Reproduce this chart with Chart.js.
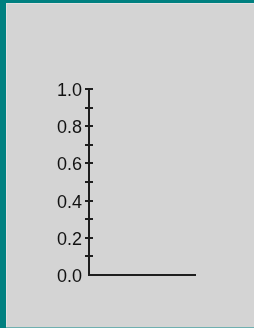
<!DOCTYPE html>
<html>
<head>
<meta charset="utf-8">
<script src="https://cdn.jsdelivr.net/npm/chart.js@4"></script>
<style>
  html, body { margin: 0; padding: 0; }
  body { width: 254px; height: 328px; background: #008080; position: relative; overflow: hidden; }
  .panel {
    position: absolute; left: 6px; top: 3px; width: 248px; height: 324px;
    background: #d4d4d4; border-left: 1px solid #e2e2e2; border-top: 1px solid #e2e2e2;
    box-sizing: border-box;
  }
  .edge { position: absolute; left: 6px; top: 327px; width: 248px; height: 1px; background: #6fb0b0; }
  canvas { position: absolute; left: 0; top: 0; }
</style>
</head>
<body>
<div class="panel"></div>
<div class="edge"></div>
<canvas id="chart" width="254" height="328"></canvas>
<script>
// empty plot: only the frame and the y scale are shown
const categories = [];
const seriesValues = [];
const yMin = 0;
const yMax = 1;
const yStep = 0.1;
const yTickLabels = ["0.0", "0.2", "0.4", "0.6", "0.8", "1.0"];

const axisColor = "#1e1e1e";

// short tick marks crossing the y axis
const crossTicks = {
  id: "crossTicks",
  afterDraw(chart) {
    const y = chart.scales.y;
    const ctx = chart.ctx;
    const x0 = chart.chartArea.left;
    ctx.save();
    ctx.strokeStyle = axisColor;
    ctx.lineWidth = 2;
    y.ticks.forEach((t) => {
      if (t.value <= yMin + 1e-9) return;
      const py = Math.round(y.getPixelForValue(t.value));
      ctx.beginPath();
      ctx.moveTo(x0 - 4, py);
      ctx.lineTo(x0 + 4, py);
      ctx.stroke();
    });
    ctx.restore();
  },
};

new Chart(document.getElementById("chart"), {
  type: "line",
  data: {
    labels: categories,
    datasets: [{ data: seriesValues, borderColor: axisColor }],
  },
  options: {
    responsive: false,
    animation: false,
    layout: { padding: { left: 0, top: 89, right: 59, bottom: 53 } },
    plugins: { legend: { display: false }, tooltip: { enabled: false } },
    scales: {
      x: {
        grid: { display: false, drawTicks: false },
        ticks: { display: false },
        border: { display: true, color: axisColor, width: 2 },
        afterFit(s) { s.height = 0; },
      },
      y: {
        min: yMin,
        max: yMax,
        grid: { display: false, drawTicks: false },
        border: { display: true, color: axisColor, width: 2 },
        ticks: {
          stepSize: yStep,
          autoSkip: false,
          padding: 7,
          labelOffset: 2,
          color: "#111",
          font: { family: "'Liberation Sans', Arial, sans-serif", size: 18 },
          callback: (v) => {
            const lbl = Number(v).toFixed(1);
            return yTickLabels.includes(lbl) ? lbl : "";
          },
        },
        afterFit(s) { s.width = 89; },
      },
    },
  },
  plugins: [crossTicks],
});
</script>
</body>
</html>
